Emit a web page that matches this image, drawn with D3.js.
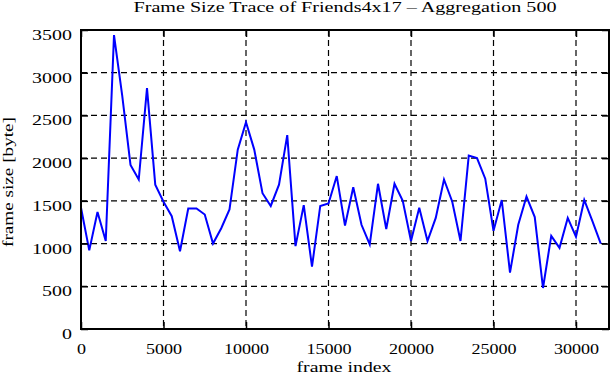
<!DOCTYPE html>
<html>
<head>
<meta charset="utf-8">
<script src="https://cdn.jsdelivr.net/npm/d3@7/dist/d3.min.js"></script>
<style>
html,body{margin:0;padding:0;background:#fff;}
text{font-family:"Liberation Serif","Times New Roman",serif;fill:#000;}
</style>
</head>
<body>
<svg id="chart" width="611" height="380"></svg>
<script>
const titleText = "Frame Size Trace of Friends4x17 \u2013 Aggregation 500";
const xLabel = "frame index";
const yLabel = "frame size [byte]";
const xTicks = [0,5000,10000,15000,20000,25000,30000];
const yTicks = [0,500,1000,1500,2000,2500,3000,3500];
const frames = [0,500,1000,1500,2000,2500,3000,3500,4000,4500,5000,5500,6000,6500,7000,7500,
  8000,8500,9000,9500,10000,10500,11000,11500,12000,12500,13000,13500,14000,14500,15000,15500,
  16000,16500,17000,17500,18000,18500,19000,19500,20000,20500,21000,21500,22000,22500,23000,23500,
  24000,24500,25000,25500,26000,26500,27000,27500,28000,28500,29000,29500,30000,30500,31000,31500];
const sizes = [1420,920,1370,1030,3440,2730,1920,1750,2820,1690,1490,1320,910,1410,1410,1340,
  1000,1180,1400,2100,2420,2100,1590,1440,1690,2270,970,1450,730,1440,1470,1790,
  1210,1660,1220,990,1700,1170,1700,1500,1030,1420,1030,1300,1750,1490,1030,2030,
  2000,1760,1150,1510,660,1220,1550,1310,480,1090,950,1300,1080,1510,1260,1000];

const L=81, R=609, T=30, B=329;
const svg = d3.select("#chart");
const x = d3.scaleLinear().domain([0,32000]).range([L,R]);
const y = d3.scaleLinear().domain([0,3500]).range([B,T]);

function stretch(sel, factor){
  sel.each(function(){
    const w = this.getComputedTextLength();
    this.setAttribute("textLength", w*factor);
    this.setAttribute("lengthAdjust","spacingAndGlyphs");
  });
}

// grid
const grid = svg.append("g").attr("stroke","#000").attr("stroke-width",1.2).attr("stroke-dasharray","6,4");
grid.selectAll("line.v").data(xTicks.filter(d=>d>0)).enter().append("line")
  .attr("x1",d=>x(d)).attr("x2",d=>x(d)).attr("y1",T).attr("y2",B);
grid.selectAll("line.h").data(yTicks.filter(d=>d>0 && d<3500)).enter().append("line")
  .attr("x1",L).attr("x2",R).attr("y1",d=>y(d)).attr("y2",d=>y(d));

// data line
svg.append("path")
  .datum(frames.map((f,i)=>[f,sizes[i]]))
  .attr("fill","none").attr("stroke","#0000ff").attr("stroke-width",2)
  .attr("d", d3.line().x(d=>x(d[0])).y(d=>y(d[1])));

// axes
const gB = svg.append("g").attr("transform",`translate(0,${B})`)
  .call(d3.axisBottom(x).tickValues(xTicks).tickSizeInner(-7).tickSizeOuter(0).tickPadding(15).tickFormat(d3.format("d")));
const gT = svg.append("g").attr("transform",`translate(0,${T})`)
  .call(d3.axisTop(x).tickValues(xTicks).tickSizeInner(-7).tickSizeOuter(0).tickFormat(""));
const gLft = svg.append("g").attr("transform",`translate(${L},0)`)
  .call(d3.axisLeft(y).tickValues(yTicks).tickSizeInner(-7).tickSizeOuter(0).tickPadding(9).tickFormat(d3.format("d")));
const gRt = svg.append("g").attr("transform",`translate(${R},0)`)
  .call(d3.axisRight(y).tickValues(yTicks).tickSizeInner(-7).tickSizeOuter(0).tickFormat(""));
[gB,gT,gLft,gRt].forEach(g=>{
  g.select(".domain").remove();
  g.selectAll(".tick line").attr("stroke","#000").attr("stroke-width",1.5);
});
gB.selectAll(".tick text").attr("font-size",14).attr("font-family","Liberation Serif").attr("fill","#000");
stretch(gB.selectAll(".tick text"), 1.29);
gLft.selectAll(".tick text").attr("font-size",15).attr("font-family","Liberation Serif").attr("fill","#000").attr("dy","0.63em");
stretch(gLft.selectAll(".tick text"), 1.33);

// border
svg.append("rect").attr("x",L).attr("y",T).attr("width",R-L).attr("height",B-T)
  .attr("fill","none").attr("stroke","#000").attr("stroke-width",2);

// texts
svg.append("text").attr("x",(L+R)/2).attr("y",12).attr("text-anchor","middle")
  .attr("font-size",15).attr("textLength",423).attr("lengthAdjust","spacingAndGlyphs").text(titleText);
svg.append("text").attr("x",344).attr("y",372).attr("text-anchor","middle")
  .attr("font-size",14).attr("textLength",95).attr("lengthAdjust","spacingAndGlyphs").text(xLabel);
svg.append("text").attr("transform","translate(13,182) rotate(-90)").attr("text-anchor","middle")
  .attr("font-size",14).attr("textLength",130).attr("lengthAdjust","spacingAndGlyphs").text(yLabel);
</script>
</body>
</html>
